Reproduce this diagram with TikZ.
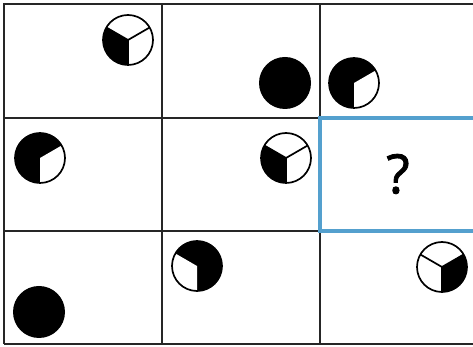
\documentclass[tikz,border=0pt]{standalone}
\usepackage{fontspec}
\setsansfont{Open Sans}
\newfontfamily\askfont[FakeBold=1.6]{Open Sans}
\usepackage{tikz}

\definecolor{markblue}{RGB}{84,160,206}

\begin{document}
\begin{tikzpicture}[x=1pt,y=1pt]
\useasboundingbox (0,0) rectangle (473,347);
% grid of cells
\draw[line width=1.9pt,black!85] (4,3) -- (4,343) -- (480,343);
\draw[line width=1.9pt,black!85] (4,3) -- (480,3);
\draw[line width=1.9pt,black!85] (4,229) -- (480,229);
\draw[line width=1.9pt,black!85] (4,116) -- (480,116);
\draw[line width=1.9pt,black!85] (162,3) -- (162,343);
\draw[line width=1.9pt,black!85] (320,3) -- (320,343);
% missing cell
\draw[line width=3.5pt,markblue] (480,229) -- (320,229) -- (320,116) -- (480,116);
\node[font=\askfont\fontsize{54}{54}\selectfont] (ask) at (398,173) {?};

% row 1
\fill[white] (128,307) circle (25);
\fill[black] (128,307) -- ++(150:25) arc (150:270:25) -- cycle;
\draw[line width=1.7pt] (128,307) -- ++(30:25) (128,307) -- ++(150:25) (128,307) -- ++(270:25);
\draw[line width=1.7pt] (128,307) circle (25);
\fill[black] (285,264) circle (26);
\fill[black] (354,264) circle (25);
\fill[white] (354,264) -- ++(-90:25) arc (-90:30:25) -- cycle;
\draw[line width=1.7pt] (354,264) circle (25);

% row 2
\fill[black] (40,189) circle (25);
\fill[white] (40,189) -- ++(-90:25) arc (-90:30:25) -- cycle;
\draw[line width=1.7pt] (40,189) circle (25);
\fill[white] (286,189) circle (25);
\fill[black] (286,189) -- ++(150:25) arc (150:270:25) -- cycle;
\draw[line width=1.7pt] (286,189) -- ++(30:25) (286,189) -- ++(150:25) (286,189) -- ++(270:25);
\draw[line width=1.7pt] (286,189) circle (25);

% row 3
\fill[black] (39,35) circle (26);
\fill[black] (197,81) circle (25);
\fill[white] (197,81) -- ++(150:25) arc (150:270:25) -- cycle;
\draw[line width=1.7pt] (197,81) circle (25);
\fill[white] (442,80) circle (25);
\fill[black] (442,80) -- ++(-90:25) arc (-90:30:25) -- cycle;
\draw[line width=1.7pt] (442,80) -- ++(30:25) (442,80) -- ++(150:25) (442,80) -- ++(270:25);
\draw[line width=1.7pt] (442,80) circle (25);

\end{tikzpicture}
\end{document}
